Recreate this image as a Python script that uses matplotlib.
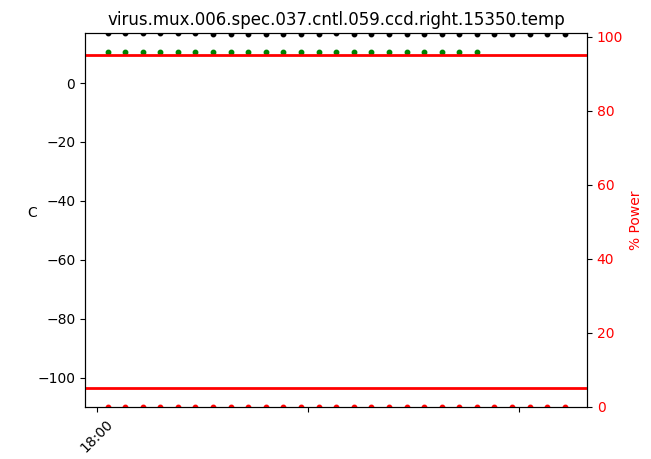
import matplotlib
matplotlib.use("Agg")
import matplotlib.pyplot as plt

# minutes after 18:00, one sample every 5 minutes
minutes = [3 + 5 * i for i in range(27)]
temp = [17.0, 17.0, 17.0, 17.0, 17.0, 16.9, 16.7, 16.8, 16.7, 16.8,
        16.8, 16.8, 16.8, 16.9, 16.8, 16.8, 16.8, 16.7, 16.8, 16.7,
        16.8, 16.7, 16.8, 16.8, 16.7, 16.8, 16.8]
setpoint_minutes = minutes[:22]
setpoint = [10.4] * 22
power = [0.0] * 27
power_limits = [5.0, 95.0]

tick_pos = [0, 60, 120]
tick_labels = ["18:00", "", ""]

fig = plt.figure(figsize=(6.51, 4.59), dpi=100)
ax = fig.add_axes([0.1306, 0.1133, 0.7711, 0.8149])
ax.plot(minutes, temp, "o", color="black", ms=3.2)
ax.plot(setpoint_minutes, setpoint, "o", color="green", ms=3.2)
ax.set_ylim(-110, 17)
ax.set_xlim(-3.4, 139.3)
ax.set_xticks(tick_pos)
ax.set_xticklabels(tick_labels, rotation=45)
ax.set_ylabel("C", rotation=0, labelpad=4)
ax.set_title("virus.mux.006.spec.037.cntl.059.ccd.right.15350.temp")

ax2 = ax.twinx()
ax2.plot(minutes, power, "o", color="red", ms=3.2)
for lim in power_limits:
    ax2.axhline(lim, color="red", lw=2)
ax2.set_ylim(0, 101)
ax2.set_ylabel("% Power", color="red")
ax2.tick_params(axis="y", labelcolor="red")

fig.savefig("out.png", dpi=100)
